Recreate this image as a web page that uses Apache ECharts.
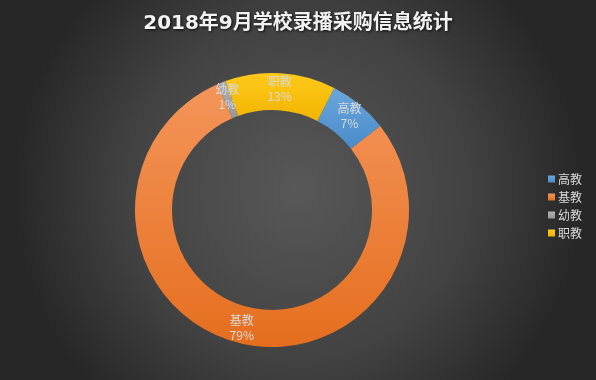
<!DOCTYPE html>
<html><head><meta charset="utf-8">
<script src="https://cdn.jsdelivr.net/npm/echarts@6/dist/echarts.min.js"></script>
<style>html,body{margin:0;padding:0;}#c{width:596px;height:380px;}</style>
</head><body><div id="c"></div>
<script>
const titleText = '2018年9月学校录播采购信息统计';
const categories = ['高教', '基教', '幼教', '职教'];
const values = [7, 79, 1, 13];
const colors = [
  ['#6aa6dd', '#4a8bc9'],
  ['#f4955a', '#e56e1e'],
  ['#b0b0b0', '#979797'],
  ['#ffc91a', '#f0b400']
];
const chart = echarts.init(document.getElementById('c'));
chart.setOption({
  backgroundColor: new echarts.graphic.RadialGradient(0.5, 0.5, 0.75, [
    {offset: 0, color: '#585858'},
    {offset: 0.6, color: '#424242'},
    {offset: 1, color: '#272727'}
  ]),
  title: {
    text: titleText, left: 'center', top: 9,
    textStyle: {color: '#f2f2f2', fontSize: 20, fontWeight: 'bold',
      fontFamily: '"DejaVu Sans", "Noto Sans CJK SC"', textShadowColor: 'rgba(0,0,0,0.8)', textShadowBlur: 3, textShadowOffsetX: 1, textShadowOffsetY: 1}
  },
  legend: {
    orient: 'vertical', left: 543, top: 168, itemWidth: 7, itemHeight: 7, itemGap: 6,
    icon: 'rect',
    textStyle: {color: '#d9d9d9', fontSize: 12, fontFamily: 'Noto Sans CJK SC', padding: [0,0,0,-2]},
    data: categories
  },
  series: [{
    type: 'pie',
    center: [272, 210],
    radius: [100, 137],
    startAngle: 63,
    clockwise: true,
    avoidLabelOverlap: false,
    label: {
      show: true, position: 'inside', color: '#d9d9d9', fontSize: 12, lineHeight: 15,
      fontFamily: 'Noto Sans CJK SC',
      formatter: p => p.name + '\n' + p.value + '%'
    },
    labelLine: {show: false},
    itemStyle: {borderWidth: 0},
    emphasis: {disabled: true},
    data: categories.map((c, i) => ({
      name: c, value: values[i],
      itemStyle: {color: new echarts.graphic.LinearGradient(0, 0, 0, 1, [
        {offset: 0, color: colors[i][0]}, {offset: 1, color: colors[i][1]}
      ], false)}
    }))
  }]
});
</script></body></html>
